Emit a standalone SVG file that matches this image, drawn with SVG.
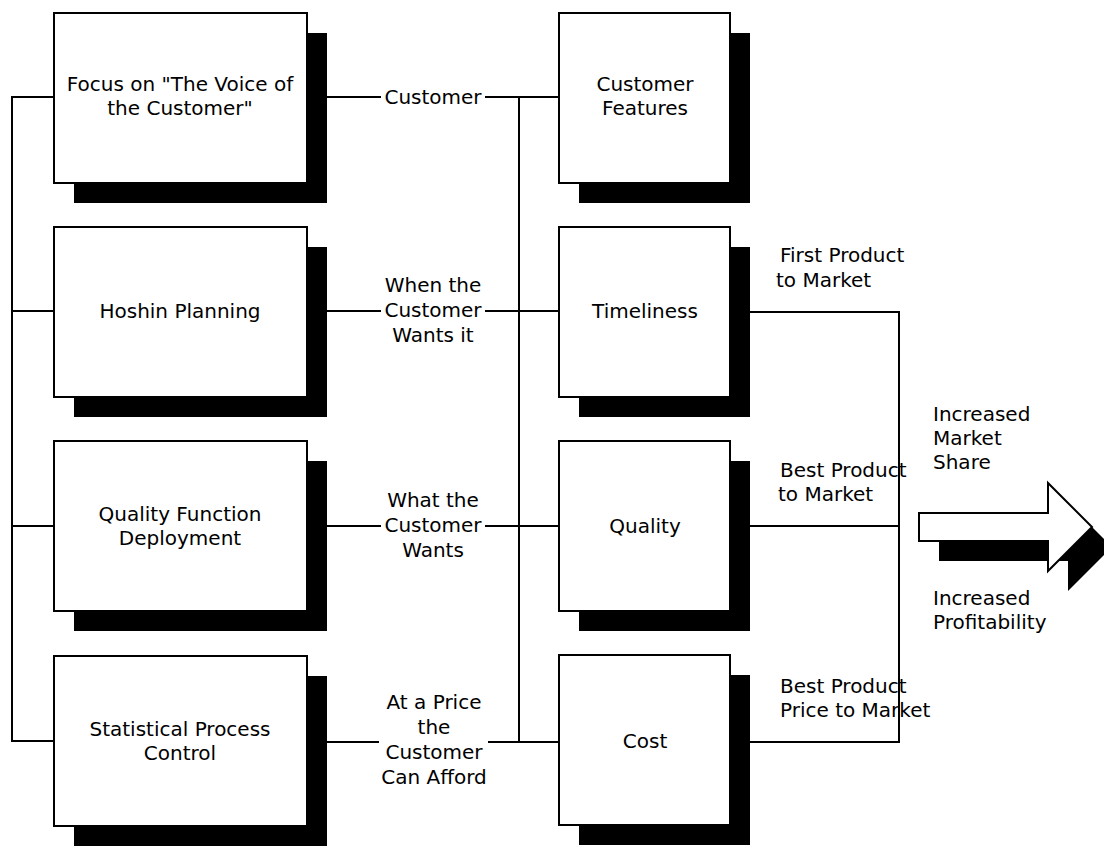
<svg xmlns="http://www.w3.org/2000/svg" width="1104" height="854" viewBox="0 0 1104 854">
<style>
.box{fill:#fff;stroke:#000;stroke-width:2}
.sh{fill:#000}
.ln{fill:none;stroke:#000;stroke-width:2}
text{font-family:"DejaVu Sans",sans-serif;font-size:20px;fill:#000}
.c{text-anchor:middle}
</style>
<rect width="1104" height="854" fill="#fff"/>
<g id="connectors">
<polyline class="ln" points="54,97 12,97 12,741 54,741"/>
<line class="ln" x1="12" y1="311" x2="54" y2="311"/>
<line class="ln" x1="12" y1="526" x2="54" y2="526"/>
<line class="ln" x1="327" y1="97" x2="381" y2="97"/>
<line class="ln" x1="485" y1="97" x2="559" y2="97"/>
<line class="ln" x1="327" y1="311" x2="381" y2="311"/>
<line class="ln" x1="485" y1="311" x2="559" y2="311"/>
<line class="ln" x1="327" y1="526" x2="381" y2="526"/>
<line class="ln" x1="485" y1="526" x2="559" y2="526"/>
<line class="ln" x1="327" y1="742" x2="379" y2="742"/>
<line class="ln" x1="488" y1="742" x2="559" y2="742"/>
<line class="ln" x1="519" y1="97" x2="519" y2="742"/>
<polyline class="ln" points="750,312 899,312 899,742 750,742"/>
<line class="ln" x1="750" y1="526" x2="899" y2="526"/>
</g>
<g id="focus">
<rect class="sh" x="74" y="33" width="253" height="170"/>
<rect class="box" x="54" y="13" width="253" height="170"/>
<text class="c" x="180" y="91">Focus on "The Voice of</text>
<text class="c" x="180" y="115">the Customer"</text>
</g>
<g id="hoshin">
<rect class="sh" x="74" y="247" width="253" height="170"/>
<rect class="box" x="54" y="227" width="253" height="170"/>
<text class="c" x="180" y="318">Hoshin Planning</text>
</g>
<g id="qfd">
<rect class="sh" x="74" y="461" width="253" height="170"/>
<rect class="box" x="54" y="441" width="253" height="170"/>
<text class="c" x="180" y="521">Quality Function</text>
<text class="c" x="180" y="545">Deployment</text>
</g>
<g id="spc">
<rect class="sh" x="74" y="676" width="253" height="170"/>
<rect class="box" x="54" y="656" width="253" height="170"/>
<text class="c" x="180" y="736">Statistical Process</text>
<text class="c" x="180" y="760">Control</text>
</g>
<g id="label-customer">
<text class="c" x="433" y="104">Customer</text>
</g>
<g id="label-when">
<text class="c" x="433" y="292">When the</text>
<text class="c" x="433" y="317">Customer</text>
<text class="c" x="433" y="342">Wants it</text>
</g>
<g id="label-what">
<text class="c" x="433" y="507">What the</text>
<text class="c" x="433" y="532">Customer</text>
<text class="c" x="433" y="557">Wants</text>
</g>
<g id="label-price">
<text class="c" x="434" y="709">At a Price</text>
<text class="c" x="434" y="734">the</text>
<text class="c" x="434" y="759">Customer</text>
<text class="c" x="434" y="784">Can Afford</text>
</g>
<g id="features">
<rect class="sh" x="579" y="33" width="171" height="170"/>
<rect class="box" x="559" y="13" width="171" height="170"/>
<text class="c" x="645" y="91">Customer</text>
<text class="c" x="645" y="115">Features</text>
</g>
<g id="timeliness">
<rect class="sh" x="579" y="247" width="171" height="170"/>
<rect class="box" x="559" y="227" width="171" height="170"/>
<text class="c" x="645" y="318">Timeliness</text>
</g>
<g id="quality">
<rect class="sh" x="579" y="461" width="171" height="170"/>
<rect class="box" x="559" y="441" width="171" height="170"/>
<text class="c" x="645" y="533">Quality</text>
</g>
<g id="cost">
<rect class="sh" x="579" y="675" width="171" height="170"/>
<rect class="box" x="559" y="655" width="171" height="170"/>
<text class="c" x="645" y="748">Cost</text>
</g>
<g id="outcomes">
<text x="780" y="262">First Product</text>
<text x="776" y="287">to Market</text>
<text x="780" y="477">Best Product</text>
<text x="778" y="501">to Market</text>
<text x="780" y="693">Best Product</text>
<text x="780" y="717">Price to Market</text>
</g>
<g id="arrow">
<polygon class="sh" points="939,533 1068,533 1068,503 1112,547 1068,591 1068,561 939,561"/>
<polygon class="box" points="919,513 1048,513 1048,483 1092,527 1048,571 1048,541 919,541"/>
<text x="933" y="421">Increased</text>
<text x="933" y="445">Market</text>
<text x="933" y="469">Share</text>
<text x="933" y="605">Increased</text>
<text x="933" y="629">Profitability</text>
</g>
</svg>
